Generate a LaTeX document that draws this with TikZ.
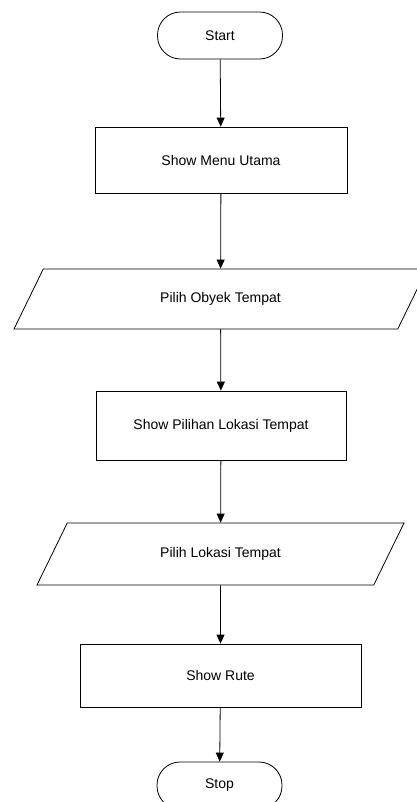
\documentclass[tikz,border=0pt]{standalone}
\usepackage{fontspec}
\setmainfont{Liberation Sans}
\usetikzlibrary{arrows.meta,shapes.geometric}

\begin{document}
\begin{tikzpicture}[x=1pt, y=-1pt, line width=0.8pt,
  every node/.style={font=\fontsize{14}{16}\selectfont},
  term/.style={draw, rectangle, rounded corners=23pt, minimum width=125pt, minimum height=47pt, inner sep=0pt},
  proc/.style={draw, rectangle, inner sep=0pt},
  io/.style={draw, trapezium, trapezium left angle=64, trapezium right angle=116, trapezium stretches body,
    text height=10pt, text depth=3pt, inner xsep=0pt},
  flow/.style={-{Triangle[length=9pt, width=8pt]}}]
  \useasboundingbox (0,0) rectangle (417,802);
  \node[term] (start) at (220,35.5) {Start};
  \node[proc, minimum width=252pt, minimum height=66pt] (menu) at (221,160) {Show Menu Utama};
  \node[io, inner ysep=23.5pt, minimum width=413pt] (obyek) at (220.5,299) {Pilih Obyek Tempat};
  \node[proc, minimum width=250pt, minimum height=69pt] (pilihan) at (221,425.5) {Show Pilihan Lokasi Tempat};
  \node[io, inner ysep=24.5pt, minimum width=367pt] (lokasi) at (220.5,554) {Pilih Lokasi Tempat};
  \node[proc, minimum width=281pt, minimum height=63pt] (rute) at (220.5,675.5) {Show Rute};
  \node[term] (stop) at (219.5,785.5) {Stop};
  \draw[flow] (start) -- (menu);
  \draw[flow] (menu) -- (obyek);
  \draw[flow] (obyek) -- (pilihan);
  \draw[flow] (pilihan) -- (lokasi);
  \draw[flow] (lokasi) -- (rute);
  \draw[flow] (rute) -- (stop);
\end{tikzpicture}
\end{document}
